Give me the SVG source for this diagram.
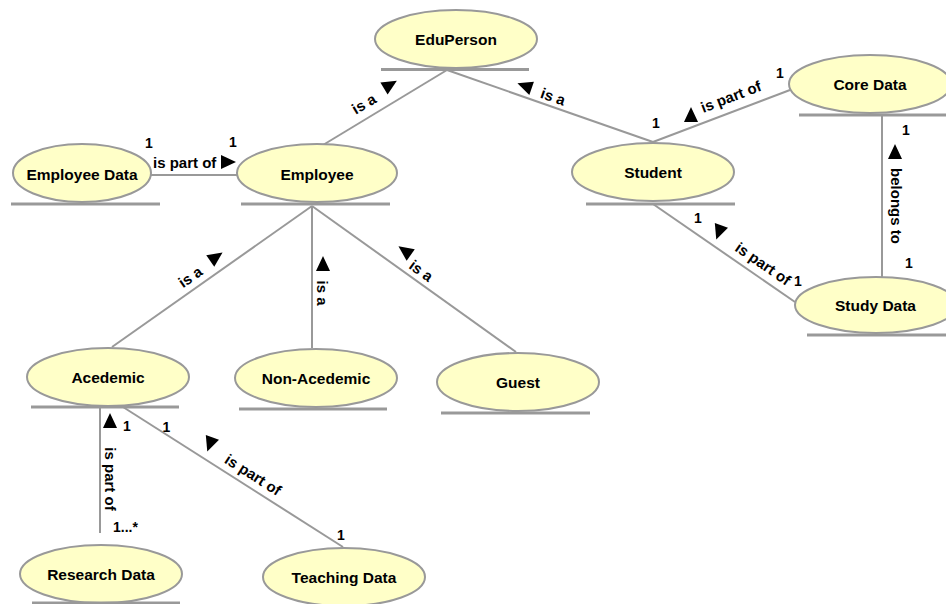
<svg xmlns="http://www.w3.org/2000/svg" xmlns:xlink="http://www.w3.org/1999/xlink" width="946" height="604" viewBox="0 0 946 604">
<defs>
<style>
.node ellipse{fill:#ffffc8;stroke:#999;stroke-width:2}
.ul{stroke:#999;stroke-width:3}
.edge line{stroke:#999;stroke-width:2}
text{font-family:"Liberation Sans",Arial,sans-serif;font-weight:bold;fill:#000}
.nt{font-size:15.5px;text-anchor:middle}
.lt{font-size:15px}
.c{text-anchor:middle}
.m{font-size:14px;text-anchor:middle}
.arr{fill:#000}
</style>
<path id="tri" class="arr" d="M8,0 L-7,-7 L-7,7 Z"/>
</defs>
<rect width="946" height="604" fill="#fff"/>

<g id="connectors">
<g class="edge">
<line x1="151" y1="175" x2="237" y2="175"/>
<line x1="323" y1="145" x2="447" y2="70"/>
<line x1="447" y1="70" x2="653" y2="142"/>
<line x1="653" y1="142" x2="790" y2="90"/>
<line x1="882" y1="115" x2="882" y2="277"/>
<line x1="653" y1="204" x2="795" y2="302"/>
<line x1="312" y1="206" x2="112" y2="347"/>
<line x1="312" y1="206" x2="312" y2="348"/>
<line x1="312" y1="206" x2="516" y2="352"/>
<line x1="100" y1="407" x2="100" y2="533"/>
<line x1="123" y1="407" x2="343" y2="547"/>
</g>
<g id="labels">
<!-- Employee Data - Employee -->
<text class="m" x="149" y="148">1</text>
<text class="m" x="233" y="147">1</text>
<text class="lt" x="153" y="168">is part of</text>
<use xlink:href="#tri" transform="translate(228,162)"/>
<!-- Employee - EduPerson -->
<text class="lt c" y="5" transform="translate(364,104) rotate(-31.1)">is a</text>
<use xlink:href="#tri" transform="translate(390,85) rotate(-31.1)"/>
<!-- Student - EduPerson -->
<text class="lt c" y="5" transform="translate(553,97) rotate(19.2)">is a</text>
<use xlink:href="#tri" transform="translate(525,86) rotate(199.2)"/>
<!-- Student - Core Data -->
<text class="lt c" y="5" transform="translate(731,97) rotate(-21.1)">is part of</text>
<use xlink:href="#tri" transform="translate(691,115) rotate(-90)"/>
<text class="m" x="656" y="128">1</text>
<text class="m" x="780" y="78">1</text>
<!-- Student - Study Data -->
<text class="lt c" y="5" transform="translate(763,264) rotate(34.6)">is part of</text>
<use xlink:href="#tri" transform="translate(719,232) rotate(110)"/>
<text class="m" x="698" y="223">1</text>
<text class="m" x="798" y="286">1</text>
<!-- Core Data - Study Data -->
<text class="lt c" y="5" transform="translate(896,206) rotate(90)">belongs to</text>
<use xlink:href="#tri" transform="translate(895,152) rotate(-90)"/>
<text class="m" x="906" y="135">1</text>
<text class="m" x="909" y="268">1</text>
<!-- Acedemic - Employee -->
<text class="lt c" y="5" transform="translate(190.5,277) rotate(-34.9)">is a</text>
<use xlink:href="#tri" transform="translate(216,257) rotate(-34.9)"/>
<!-- Non-Acedemic - Employee -->
<text class="lt c" y="5" transform="translate(322,293) rotate(90)">is a</text>
<use xlink:href="#tri" transform="translate(323,264) rotate(-90)"/>
<!-- Guest - Employee -->
<text class="lt c" y="5" transform="translate(421,271) rotate(35.5)">is a</text>
<use xlink:href="#tri" transform="translate(405,251) rotate(215.5)"/>
<!-- Research Data - Acedemic -->
<text class="lt c" y="5" transform="translate(110,479) rotate(90)">is part of</text>
<use xlink:href="#tri" transform="translate(110,421) rotate(-90)"/>
<text class="m" x="127" y="431">1</text>
<text class="m" x="113" y="532" style="text-anchor:start">1...*</text>
<!-- Teaching Data - Acedemic -->
<text class="lt c" y="5" transform="translate(253,475) rotate(32.5)">is part of</text>
<use xlink:href="#tri" transform="translate(210,444) rotate(110)"/>
<text class="m" x="166.5" y="432">1</text>
<text class="m" x="341" y="540">1</text>
</g>
</g>

<g id="eduperson" class="node">
<ellipse cx="456" cy="39" rx="81" ry="29"/>
<line class="ul" x1="381" y1="69.5" x2="529" y2="69.5"/>
<text class="nt" x="456" y="44.5">EduPerson</text>
</g>
<g id="employee-data" class="node">
<ellipse cx="82" cy="173" rx="69" ry="29"/>
<line class="ul" x1="11" y1="204" x2="160" y2="204"/>
<text class="nt" x="82" y="179.5">Employee Data</text>
</g>
<g id="employee" class="node">
<ellipse cx="317" cy="173" rx="80" ry="29"/>
<line class="ul" x1="241" y1="204" x2="390" y2="204"/>
<text class="nt" x="317" y="179.5">Employee</text>
</g>
<g id="student" class="node">
<ellipse cx="653" cy="172" rx="81" ry="29"/>
<line class="ul" x1="586" y1="204" x2="735" y2="204"/>
<text class="nt" x="653" y="178">Student</text>
</g>
<g id="core-data" class="node">
<ellipse cx="870" cy="84" rx="81" ry="29"/>
<line class="ul" x1="799" y1="115" x2="946" y2="115"/>
<text class="nt" x="870" y="90">Core Data</text>
</g>
<g id="study-data" class="node">
<ellipse cx="876" cy="305" rx="81" ry="28"/>
<line class="ul" x1="807" y1="335" x2="946" y2="335"/>
<text class="nt" x="875.5" y="311">Study Data</text>
</g>
<g id="acedemic" class="node">
<ellipse cx="108" cy="377" rx="81" ry="29"/>
<line class="ul" x1="31" y1="407" x2="179" y2="407"/>
<text class="nt" x="108" y="383">Acedemic</text>
</g>
<g id="non-acedemic" class="node">
<ellipse cx="316" cy="378" rx="81" ry="29"/>
<line class="ul" x1="239" y1="409" x2="387" y2="409"/>
<text class="nt" x="316" y="384">Non-Acedemic</text>
</g>
<g id="guest" class="node">
<ellipse cx="518" cy="382" rx="81" ry="29"/>
<line class="ul" x1="441" y1="413" x2="590" y2="413"/>
<text class="nt" x="518" y="388">Guest</text>
</g>
<g id="research-data" class="node">
<ellipse cx="101" cy="574" rx="81" ry="29"/>
<line class="ul" x1="32" y1="603" x2="180" y2="603"/>
<text class="nt" x="101" y="580">Research Data</text>
</g>
<g id="teaching-data" class="node">
<ellipse cx="344" cy="577" rx="81" ry="29"/>
<text class="nt" x="344" y="583">Teaching Data</text>
</g>
</svg>
